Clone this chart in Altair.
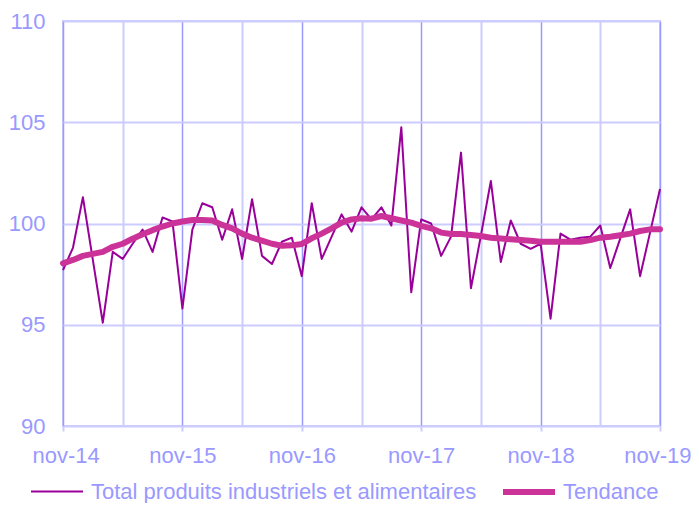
import altair as alt
import pandas as pd

months = list(range(61))
raw = [97.7, 98.8, 101.3, 98.2, 95.1, 98.6, 98.25, 99.0, 99.7, 98.6,
       100.3, 100.1, 95.8, 99.7, 101.0, 100.8, 99.2, 100.7, 98.25, 101.2,
       98.4, 98.0, 99.1, 99.3, 97.4, 101.0, 98.25, 99.35, 100.45, 99.6,
       100.8, 100.2, 100.8, 99.9, 104.75, 96.6, 100.2, 100.0, 98.4, 99.35,
       103.5, 96.8, 99.4, 102.1, 98.1, 100.15, 99.0, 98.75, 99.0, 95.3,
       99.5, 99.2, 99.3, 99.35, 99.9, 97.8, 99.25, 100.7, 97.4, 99.55,
       101.7]
trend = [98.03, 98.2, 98.4, 98.5, 98.6, 98.85, 99.0, 99.25, 99.47, 99.67,
         99.85, 100.0, 100.1, 100.17, 100.17, 100.15, 99.93, 99.76, 99.5, 99.3,
         99.15, 99.0, 98.9, 98.92, 98.99, 99.27, 99.5, 99.76, 100.04, 100.2,
         100.26, 100.24, 100.37, 100.26, 100.15, 100.04, 99.88, 99.76, 99.55, 99.48,
         99.48, 99.43, 99.38, 99.3, 99.26, 99.22, 99.18, 99.15, 99.1, 99.1,
         99.1, 99.1, 99.1, 99.18, 99.3, 99.35, 99.42, 99.5, 99.63, 99.71,
         99.71]
series_names = ["Total produits industriels et alimentaires", "Tendance"]
tick_labels = ["nov-14", "nov-15", "nov-16", "nov-17", "nov-18", "nov-19"]
y_ticks = [90, 95, 100, 105, 110]

df_raw = pd.DataFrame({"m": months, "v": raw, "s": series_names[0]})
df_tr = pd.DataFrame({"m": months, "v": trend, "s": series_names[1]})

FONT = "Liberation Sans"
LAB = "#9999ff"
LIGHT = "#ccccff"
DARK = "#9999ff"

label_expr = "datum.value % 12 == 0 ? " + str(tick_labels) + "[datum.value / 12] : ''"
is_year = "datum.value % 12 == 0"

x_enc = alt.X(
    "m:Q",
    scale=alt.Scale(domain=[0, 60], nice=False, zero=False),
    axis=alt.Axis(
        values=list(range(0, 61, 6)), labelExpr=label_expr, title=None,
        grid=True,
        gridColor={"condition": {"test": is_year, "value": DARK}, "value": LIGHT},
        gridWidth={"condition": {"test": is_year, "value": 1.5}, "value": 2},
        tickColor={"condition": {"test": is_year, "value": LIGHT}, "value": "rgba(0,0,0,0)"},
        tickSize=5, tickWidth=2, labelPadding=14, domain=False,
        labelFontSize=22, labelColor=LAB, labelFont=FONT,
        labelOverlap=False, labelFlush=True, labelFlushOffset=31,
    ),
)
y_enc = alt.Y(
    "v:Q",
    scale=alt.Scale(domain=[90, 110], nice=False, zero=False),
    axis=alt.Axis(
        values=y_ticks, title=None, grid=True, gridColor=LIGHT, gridWidth=2,
        ticks=False, labelPadding=18, domain=False,
        labelFontSize=22, labelColor=LAB, labelFont=FONT,
    ),
)
legend = alt.Legend(
    orient="none", legendX=-35, legendY=442, direction="horizontal", columns=2,
    title=None, labelFontSize=22, labelColor=LAB, labelFont=FONT,
    symbolType="stroke", symbolSize=2704, labelLimit=600, columnPadding=14,
    labelOffset=5, padding=0,
)
color_enc = alt.Color("s:N", scale=alt.Scale(domain=series_names, range=["#990099", "#cc3399"]), legend=legend)
sw_enc = alt.StrokeWidth("s:N", scale=alt.Scale(domain=series_names, range=[2, 6]), legend=legend)

l1 = alt.Chart(df_raw).mark_line(strokeJoin="round").encode(x=x_enc, y=y_enc, color=color_enc, strokeWidth=sw_enc)
l2 = alt.Chart(df_tr).mark_line(strokeJoin="round", strokeCap="round").encode(x=x_enc, y=y_enc, color=color_enc, strokeWidth=sw_enc)

chart = alt.layer(l1, l2).properties(
    width=597, height=405,
    padding={"left": 55, "top": 13, "right": 31, "bottom": 77},
    autosize=alt.AutoSizeParams(type="none"),
    background="white",
).configure_view(stroke=LIGHT, strokeWidth=2)

chart.save("out.html", embed_options={"renderer": "svg", "actions": False})
